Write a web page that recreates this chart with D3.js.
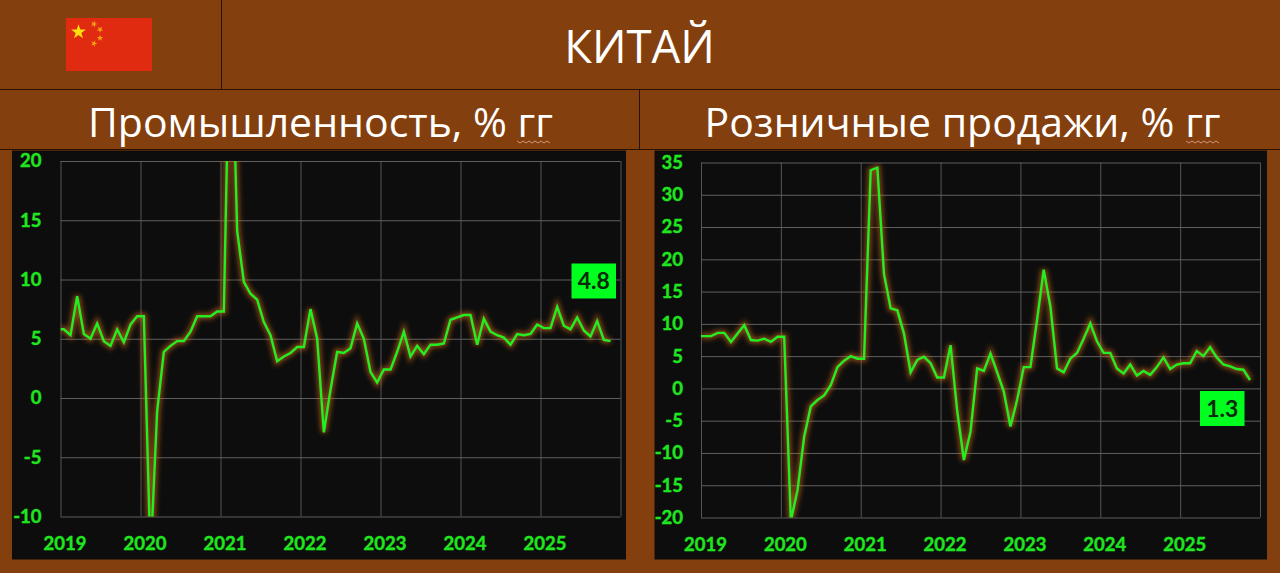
<!DOCTYPE html>
<html>
<head>
<meta charset="utf-8">
<script src="https://cdn.jsdelivr.net/npm/d3@7"></script>
<style>
    html, body { margin: 0; padding: 0; background: #843f0e; }
    svg { display: block; }
</style>
</head>
<body>
<svg id="drawing_region"></svg>
<script>
const years = ['2019', '2020', '2021', '2022', '2023', '2024', '2025'];
const yearTicks = [0, 12, 24, 36, 48, 60, 72, 84]; // months since Jan 2019

const industry = [
    5.8, 5.3, 8.6, 5.4, 5.0, 6.3, 4.8, 4.4, 5.8, 4.7, 6.2, 6.9,
    6.9, -13.5, -1.1, 3.9, 4.4, 4.8, 4.8, 5.6, 6.9, 6.9, 6.9, 7.3,
    7.3, 35.1, 14.1, 9.8, 8.8, 8.3, 6.4, 5.3, 3.1, 3.5, 3.8, 4.3,
    4.3, 7.5, 5.0, -2.9, 0.7, 3.9, 3.8, 4.2, 6.3, 5.0, 2.2, 1.3,
    2.4, 2.4, 3.9, 5.6, 3.5, 4.4, 3.7, 4.5, 4.5, 4.6, 6.6, 6.8,
    7.0, 7.0, 4.5, 6.7, 5.6, 5.3, 5.1, 4.5, 5.4, 5.3, 5.4, 6.2,
    5.9, 5.9, 7.7, 6.1, 5.8, 6.8, 5.7, 5.2, 6.5, 4.9, 4.8
];

const retail = [
    8.1, 8.1, 8.6, 8.6, 7.2, 8.5, 9.8, 7.5, 7.4, 7.7, 7.2, 8.0,
    8.0, -20.5, -15.8, -7.5, -2.8, -1.8, -1.1, 0.5, 3.3, 4.3, 5.0, 4.6,
    4.6, 33.8, 34.2, 17.7, 12.4, 12.1, 8.5, 2.5, 4.4, 4.9, 3.9, 1.7,
    1.7, 6.7, -3.5, -11.1, -6.7, 3.1, 2.7, 5.4, 2.5, -0.5, -5.9, -1.8,
    3.3, 3.3, 10.6, 18.4, 12.7, 3.1, 2.5, 4.6, 5.5, 7.7, 10.1, 7.3,
    5.5, 5.5, 3.1, 2.3, 3.7, 2.0, 2.7, 2.1, 3.3, 4.8, 3.0, 3.7,
    3.9, 3.9, 5.8, 5.0, 6.4, 4.8, 3.7, 3.4, 3.0, 2.9, 1.3
];

const industryTicks = [-10, -5, 0, 5, 10, 15, 20];
const retailTicks = [-20, -15, -10, -5, 0, 5, 10, 15, 20, 25, 30, 35];

const countryTitle = 'КИТАЙ';
const industryTitle = 'Промышленность, % гг';
const retailTitle = 'Розничные продажи, % гг';

const brown = '#843f0e';
const green = '#1fe61f';
const titleFont = '"Open Sans", sans-serif';
const tickFont = 'Lato, sans-serif';

const svg = d3.select('#drawing_region')
    .attr('width', 1280)
    .attr('height', 573);

svg.append('rect')
    .attr('width', 1280)
    .attr('height', 573)
    .attr('fill', brown);

// glow under the lines
const glow = svg.append('defs')
    .append('filter')
    .attr('id', 'glow')
    .attr('x', '-10%').attr('y', '-10%')
    .attr('width', '120%').attr('height', '120%');
glow.append('feGaussianBlur').attr('stdDeviation', 2.5);

// header lines
const rules = [
    [0, 89.5, 1280, 89.5],
    [0, 149.5, 1280, 149.5],
    [221.5, 0, 221.5, 89.5],
    [639.5, 89.5, 639.5, 149.5]
];
svg.selectAll('line.rule')
    .data(rules)
    .enter()
    .append('line')
    .attr('class', 'rule')
    .attr('x1', d => d[0]).attr('y1', d => d[1])
    .attr('x2', d => d[2]).attr('y2', d => d[3])
    .attr('stroke', '#2b1205')
    .attr('stroke-width', 1);

// flag
const flag = svg.append('g').attr('transform', 'translate(66,18)');
flag.append('rect').attr('width', 86).attr('height', 53).attr('fill', '#e02b10');
const stars = [
    {x: 12.5, y: 14, r: 68, rot: 0, fill: '#fce00a'},
    {x: 28, y: 6, r: 14, rot: 20, fill: '#f5a010'},
    {x: 34, y: 11.5, r: 14, rot: 40, fill: '#f5a010'},
    {x: 34, y: 20, r: 14, rot: 0, fill: '#f5a010'},
    {x: 28, y: 25.5, r: 14, rot: 20, fill: '#f5a010'}
];
flag.selectAll('path')
    .data(stars)
    .enter()
    .append('path')
    .attr('d', d => d3.symbol().type(d3.symbolStar).size(d.r)())
    .attr('transform', d => `translate(${d.x},${d.y}) rotate(${d.rot})`)
    .attr('fill', d => d.fill);

// titles
svg.append('text')
    .attr('x', 639.5).attr('y', 63)
    .attr('text-anchor', 'middle')
    .attr('font-family', titleFont)
    .attr('font-size', 45.5)
    .attr('fill', 'white')
    .text(countryTitle);

class LineChart {

    constructor( config, data, ticks, title, last ) {
        this.config = config;
        this.data = data;
        this.ticks = ticks;
        this.title = title;
        this.last = last;
        this.init();
    }

    init() {
        let self = this;
        const c = self.config;

        self.xscale = d3.scaleLinear()
            .domain([0, 84])
            .range([c.left, c.right]);

        self.yscale = d3.scaleLinear()
            .domain([self.ticks[0], self.ticks[self.ticks.length - 1]])
            .range([c.bottom, c.top]);

        self.chart = svg.append('g');
    }

    render() {
        let self = this;
        const c = self.config;
        const plotW = c.right - c.left;
        const plotH = c.bottom - c.top;

        // panel title
        self.chart.append('text')
            .attr('x', c.titleX).attr('y', 137)
            .attr('text-anchor', 'middle')
            .attr('font-family', titleFont)
            .attr('font-size', 41)
            .attr('fill', 'white')
            .text(self.title);

        // spell-check squiggle below "гг"
        const wave = d3.range(0, 12).map(i => [c.squiggle + i * 3, 142 + (i % 2 ? 1 : -1)]);
        self.chart.append('path')
            .attr('d', d3.line()(wave))
            .attr('fill', 'none')
            .attr('stroke', '#e6a98c')
            .attr('stroke-width', 0.8);

        // black panel
        self.chart.append('rect')
            .attr('x', c.panelLeft).attr('y', 150.5)
            .attr('width', c.panelRight - c.panelLeft)
            .attr('height', 409)
            .attr('fill', '#0d0d0d');

        // grid
        const xaxis = d3.axisBottom(self.xscale)
            .tickValues(yearTicks)
            .tickSize(-plotH)
            .tickPadding(20)
            .tickFormat((d, i) => years[i] || '');

        const yaxis = d3.axisLeft(self.yscale)
            .tickValues(self.ticks)
            .tickSize(-plotW)
            .tickPadding(c.yPad)
            .tickFormat(d => String(d));

        const gx = self.chart.append('g')
            .attr('transform', `translate(0,${c.bottom})`)
            .call(xaxis);
        const gy = self.chart.append('g')
            .attr('transform', `translate(${c.left},0)`)
            .call(yaxis);

        gx.select('.domain').remove();
        gy.select('.domain').remove();
        gx.selectAll('line').attr('stroke', '#555555');
        gy.selectAll('line').attr('stroke', '#5f5f5f');

        [gx, gy].forEach(g => g.selectAll('text')
            .attr('fill', green)
            .attr('stroke', green)
            .attr('stroke-width', 0.4)
            .attr('font-family', tickFont)
            .attr('font-weight', 700)
            .attr('font-size', 18.5));
        gx.selectAll('text').attr('dx', 4);

        // line, clipped to the plot like the original axis range
        const clipId = c.id + '-clip';
        self.chart.append('clipPath')
            .attr('id', clipId)
            .append('rect')
            .attr('x', c.left).attr('y', c.top)
            .attr('width', plotW).attr('height', plotH);

        // first point sits on the axis, the rest mid-month
        const months = [0].concat(self.data.map((d, i) => i + 0.5));
        const values = [self.data[0]].concat(self.data);
        const line = d3.line()
            .x((d, i) => self.xscale(months[i]))
            .y(d => self.yscale(d));

        const plot = self.chart.append('g').attr('clip-path', `url(#${clipId})`);

        plot.append('path')
            .attr('d', line(values))
            .attr('fill', 'none')
            .attr('stroke', '#d8701a')
            .attr('stroke-opacity', 0.6)
            .attr('stroke-width', 6)
            .attr('filter', 'url(#glow)');

        plot.append('path')
            .attr('d', line(values))
            .attr('fill', 'none')
            .attr('stroke', '#22ee22')
            .attr('stroke-width', 2.4)
            .attr('stroke-linejoin', 'miter');

        // last value box
        const box = self.chart.append('g')
            .attr('transform', `translate(${c.boxX},${c.boxY})`);
        box.append('rect')
            .attr('width', 44.5).attr('height', 35)
            .attr('fill', '#00ff1e');
        box.append('text')
            .attr('x', 22.25).attr('y', 25.5)
            .attr('text-anchor', 'middle')
            .attr('font-family', tickFont)
            .attr('font-weight', 700)
            .attr('font-size', 23)
            .attr('fill', '#0a2a0a')
            .text(d3.format('.1f')(self.last));
    }
}

const left_chart = new LineChart({
    id: 'industry',
    left: 60.5, right: 620.5, top: 161, bottom: 516.5,
    panelLeft: 12, panelRight: 626,
    titleX: 320.5, squiggle: 517, yPad: 19,
    boxX: 571.5, boxY: 263.5
}, industry, industryTicks, industryTitle, industry[industry.length - 1]);
left_chart.render();

const right_chart = new LineChart({
    id: 'retail',
    left: 701, right: 1260, top: 162.5, bottom: 517.5,
    panelLeft: 654.5, panelRight: 1267,
    titleX: 962.5, squiggle: 1186, yPad: 18,
    boxX: 1200, boxY: 391
}, retail, retailTicks, retailTitle, retail[retail.length - 1]);
right_chart.render();
</script>
</body>
</html>
